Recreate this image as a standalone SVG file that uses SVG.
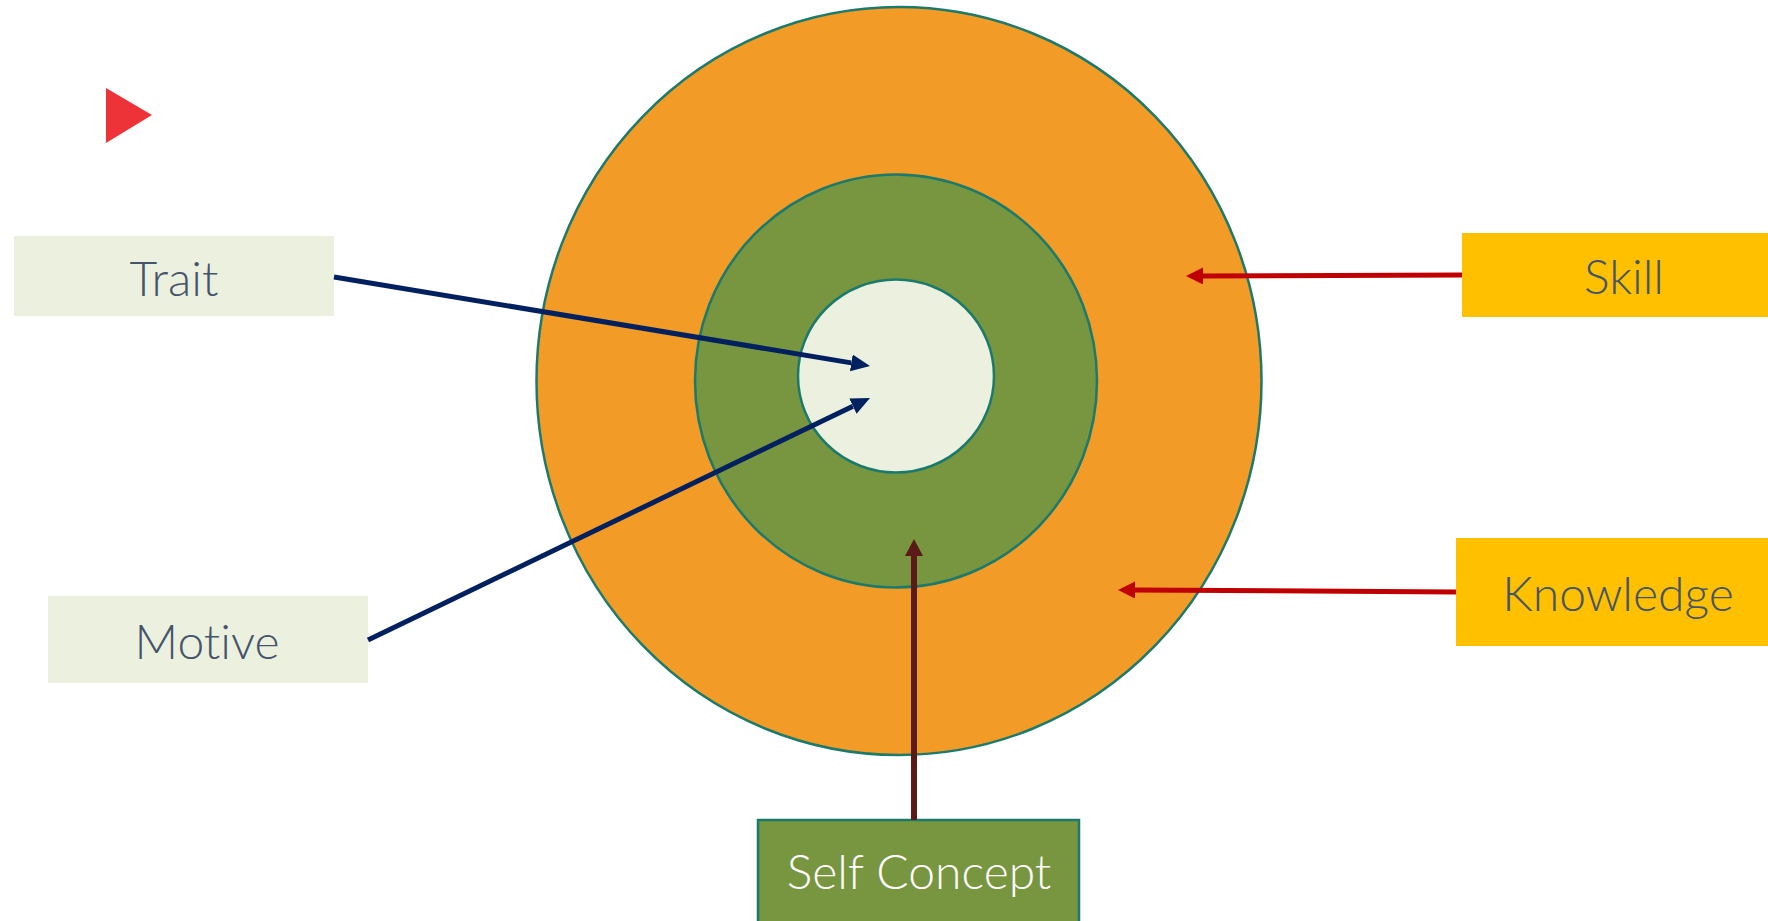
<svg xmlns="http://www.w3.org/2000/svg" width="1768" height="921" viewBox="0 0 1768 921">
<style>
.ring{stroke:#1B7A6B;stroke-width:2.5}
.lbl{font-family:Lato,"Liberation Sans",sans-serif;font-size:48px;font-weight:300;fill:#44546A;text-anchor:middle;font-variant-ligatures:none}
.navy{stroke:#002060;stroke-width:5;fill:none}
.red{stroke:#C00000;stroke-width:5;fill:none}
.brown{stroke:#5B1A18;stroke-width:6;fill:none}
</style>
<defs>
<marker id="aNavy" markerUnits="userSpaceOnUse" markerWidth="20" markerHeight="18" refX="0" refY="8.5" orient="auto"><path d="M0,0 L19,8.5 L0,17 z" fill="#002060"/></marker>
<marker id="aRed" markerUnits="userSpaceOnUse" markerWidth="18" markerHeight="18" refX="0" refY="8.5" orient="auto"><path d="M0,0 L17,8.5 L0,17 z" fill="#C00000"/></marker>
<marker id="aBrown" markerUnits="userSpaceOnUse" markerWidth="18" markerHeight="18" refX="0" refY="9" orient="auto"><path d="M0,0 L17,9 L0,18 z" fill="#5B1A18"/></marker>
</defs>
<rect width="1768" height="921" fill="#FFFFFF"/>
<polygon points="106,88 152,115 106,143" fill="#EE3338"/>
<g id="outer"><ellipse class="ring" cx="899" cy="381" rx="362.5" ry="374" fill="#F29B26"/></g>
<g id="middle"><ellipse class="ring" cx="896" cy="381" rx="201" ry="206.5" fill="#77963F"/></g>
<g id="inner"><ellipse class="ring" cx="896" cy="376" rx="98" ry="96.5" fill="#EBF0DF"/></g>
<g id="trait"><rect x="14" y="236" width="320" height="80" fill="#EBF0DF"/><text class="lbl" x="174" y="296">Trait</text></g>
<g id="motive"><rect x="48" y="596" width="320" height="87" fill="#EBF0DF"/><text class="lbl" x="207" y="659">Motive</text></g>
<g id="skill"><rect x="1462" y="233" width="306" height="84" fill="#FFC000"/><text class="lbl" x="1624" y="294">Skill</text></g>
<g id="knowledge"><rect x="1456" y="538" width="312" height="108" fill="#FFC000"/><text class="lbl" x="1618" y="611">Knowledge</text></g>
<g id="selfconcept"><rect x="758" y="820" width="321" height="110" fill="#77963F" stroke="#1B7A6B" stroke-width="2.5"/><text x="919" y="889" font-family="Lato,'Liberation Sans',sans-serif" font-size="48" font-weight="300" fill="#FFFFFF" text-anchor="middle">Self Concept</text></g>
<g id="connectors">
<line class="navy" x1="334" y1="277" x2="851.3" y2="362.9" marker-end="url(#aNavy)"/>
<line class="navy" x1="368" y1="640" x2="852.9" y2="406.2" marker-end="url(#aNavy)"/>
<line class="red" x1="1462" y1="275" x2="1203" y2="276" marker-end="url(#aRed)"/>
<line class="red" x1="1456" y1="592" x2="1135" y2="590" marker-end="url(#aRed)"/>
<line class="brown" x1="914" y1="820" x2="914" y2="556" marker-end="url(#aBrown)"/>
</g>
</svg>
